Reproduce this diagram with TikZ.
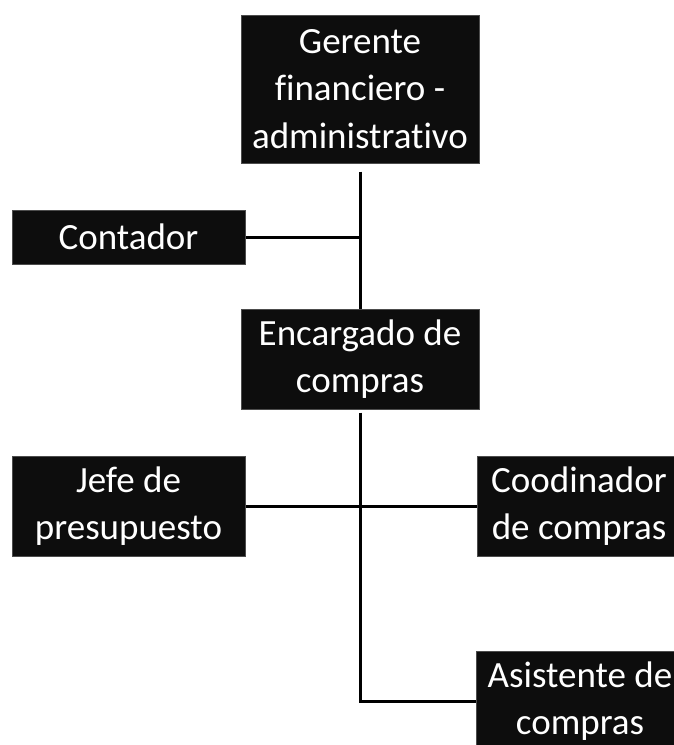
\documentclass[tikz,border=0pt]{standalone}
\usepackage{fontspec}
\setmainfont{Carlito}[Ligatures=NoCommon]

\begin{document}
\begin{tikzpicture}[x=1pt, y=-1pt,
  puesto/.style={fill=black!95, draw=black!70, line width=1pt, text=white,
    align=center, inner sep=0pt, font=\fontsize{37}{47.5}\selectfont},
  enlace/.style={line width=3pt, black}]

\useasboundingbox (0,0) rectangle (674,745);

% Top level box
\node[puesto, minimum width=238pt, minimum height=148pt] (ger) at (360,89) {Gerente\\financiero -\\administrativo};

% Staff box on the left
\node[puesto, minimum width=233pt, minimum height=54pt] (con) at (128.5,237) {Contador};

% Middle level
\node[puesto, minimum width=238pt, minimum height=100pt] (enc) at (360,359) {Encargado de\\compras};

% Lower level boxes
\node[puesto, minimum width=233pt, minimum height=100pt] (jef) at (128.5,506) {Jefe de\\presupuesto};
\node[puesto, minimum width=204pt, minimum height=100pt] (coo) at (579,506) {Coodinador\\de compras};
\node[puesto, minimum width=208pt, minimum height=100pt] (asi) at (580,701) {Asistente de\\compras};

% Connectors
\draw[enlace] ([yshift=-8pt]ger.south) -- (enc.north);
\draw[enlace] (con.east) -- (con.east -| ger.south);
\draw[enlace] ([yshift=-3pt]enc.south) |- (asi.west);
\draw[enlace] (jef.east) -- (coo.west);

\end{tikzpicture}
\end{document}
